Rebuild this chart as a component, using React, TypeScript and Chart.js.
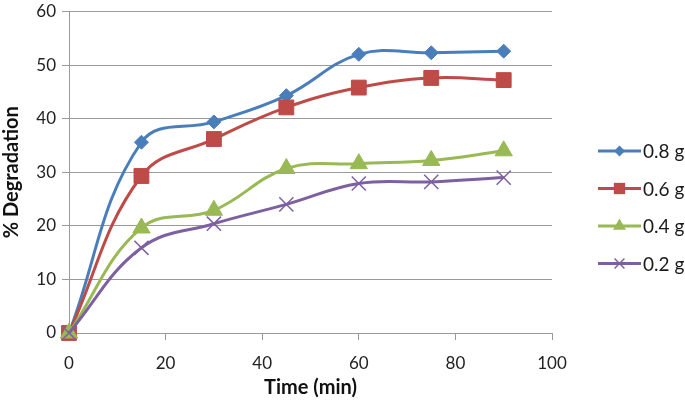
import React, { useEffect, useRef } from 'react';
import { Chart, registerables } from 'chart.js';

Chart.register(...registerables);

const times = [0, 15, 30, 45, 60, 75, 90];
const s08 = [0, 35.6, 39.4, 44.3, 52.0, 52.3, 52.6];
const s06 = [0, 29.3, 36.2, 42.1, 45.8, 47.6, 47.2];
const s04 = [0, 19.6, 22.9, 30.7, 31.6, 32.2, 34.0];
const s02 = [0, 15.9, 20.4, 24.0, 27.9, 28.2, 29.0];
const seriesLabels = ['0.8 g', '0.6 g', '0.4 g', '0.2 g'];
const seriesColors = ['#4A7EBB', '#BE4B48', '#98B954', '#7D60A0'];
const seriesMarkers = ['rectRot', 'rect', 'triangle', 'crossRot'];
const markerRadius = [7, 10.5, 10, 10];
const legendRadius = [5.5, 8, 7.5, 7];
const xTitle = 'Time (min)';
const yTitle = '% Degradation';

const FONT = 'Lato, "Open Sans", sans-serif';

const legendPlugin = {
  id: 'sideLegend',
  afterDraw(chart: any) {
    const ctx = chart.ctx;
    const x0 = 598;
    const x1 = 641;
    const ys = [151, 188.5, 226, 263.5];
    ctx.save();
    seriesLabels.forEach((lab, i) => {
      const y = ys[i];
      ctx.strokeStyle = seriesColors[i];
      ctx.lineWidth = 3;
      ctx.beginPath();
      ctx.moveTo(x0, y);
      ctx.lineTo(x1, y);
      ctx.stroke();
      const cx = (x0 + x1) / 2;
      const r = legendRadius[i];
      ctx.fillStyle = seriesColors[i];
      ctx.strokeStyle = seriesColors[i];
      ctx.beginPath();
      const m = seriesMarkers[i];
      if (m === 'rectRot') {
        ctx.moveTo(cx, y - r);
        ctx.lineTo(cx + r, y);
        ctx.lineTo(cx, y + r);
        ctx.lineTo(cx - r, y);
        ctx.closePath();
        ctx.fill();
      } else if (m === 'rect') {
        const s = r * Math.SQRT1_2;
        ctx.rect(cx - s, y - s, 2 * s, 2 * s);
        ctx.fill();
      } else if (m === 'triangle') {
        const h = r;
        ctx.moveTo(cx, y - h);
        ctx.lineTo(cx + h * 0.866, y + h * 0.5);
        ctx.lineTo(cx - h * 0.866, y + h * 0.5);
        ctx.closePath();
        ctx.fill();
      } else {
        const s = r * Math.SQRT1_2;
        ctx.lineWidth = 1.5;
        ctx.moveTo(cx - s, y - s);
        ctx.lineTo(cx + s, y + s);
        ctx.moveTo(cx + s, y - s);
        ctx.lineTo(cx - s, y + s);
        ctx.stroke();
      }
      ctx.fillStyle = '#1a1a1a';
      ctx.font = '19px ' + FONT;
      ctx.textBaseline = 'middle';
      ctx.textAlign = 'left';
      ctx.fillText(lab, 643, y + 1);
    });
    ctx.restore();
  },
};

export default function App() {
  const ref = useRef<HTMLCanvasElement>(null);
  useEffect(() => {
    const all = [s08, s06, s04, s02];
    const chart = new Chart(ref.current!, {
      type: 'line',
      data: {
        datasets: all.map((vals, i) => ({
          label: seriesLabels[i],
          data: times.map((t, j) => ({ x: t, y: vals[j] })),
          borderColor: seriesColors[i],
          backgroundColor: seriesColors[i],
          borderWidth: 3,
          pointStyle: seriesMarkers[i] as any,
          pointRadius: markerRadius[i],
          pointBorderWidth: i === 3 ? 1.5 : 1,
          pointBackgroundColor: seriesColors[i],
          pointBorderColor: seriesColors[i],
          tension: 0.4,
          clip: false as any,
          order: 3 - i,
        })),
      },
      options: {
        animation: false,
        responsive: true,
        maintainAspectRatio: false,
        layout: { padding: { top: 10, right: 133, left: 0, bottom: 0 } },
        plugins: { legend: { display: false }, tooltip: { enabled: false } },
        scales: {
          x: {
            type: 'linear',
            min: 0,
            max: 100,
            ticks: { stepSize: 20, color: '#222', font: { family: FONT, size: 17 }, padding: 13 },
            grid: { drawOnChartArea: false, drawTicks: true, tickLength: 7, color: '#9a9a9a' },
            border: { color: '#9a9a9a', width: 1 },
            title: {
              display: true,
              text: xTitle,
              color: '#111',
              font: { family: FONT, size: 20, weight: 'bold' },
              padding: { top: 0, bottom: 4 },
            },
            afterFit: (s: any) => { s.height = 71; s.paddingLeft = 0; s.paddingRight = 0; },
          },
          y: {
            min: 0,
            max: 60,
            ticks: { stepSize: 10, color: '#222', font: { family: FONT, size: 17 }, padding: 6 },
            grid: { color: '#9a9a9a', tickLength: 7 },
            border: { color: '#9a9a9a', width: 1 },
            title: {
              display: true,
              text: yTitle,
              color: '#111',
              font: { family: FONT, size: 20, weight: 'bold' },
              padding: { top: 0, bottom: 0 },
            },
            afterFit: (s: any) => { s.width = 69; s.paddingTop = 0; s.paddingBottom = 0; },
          },
        },
      },
      plugins: [legendPlugin],
    });
    return () => chart.destroy();
  }, []);
  return (
    <div style={{ position: 'absolute', left: 0, top: 0, width: 685, height: 404, background: '#fff' }}>
      <canvas ref={ref} />
    </div>
  );
}
